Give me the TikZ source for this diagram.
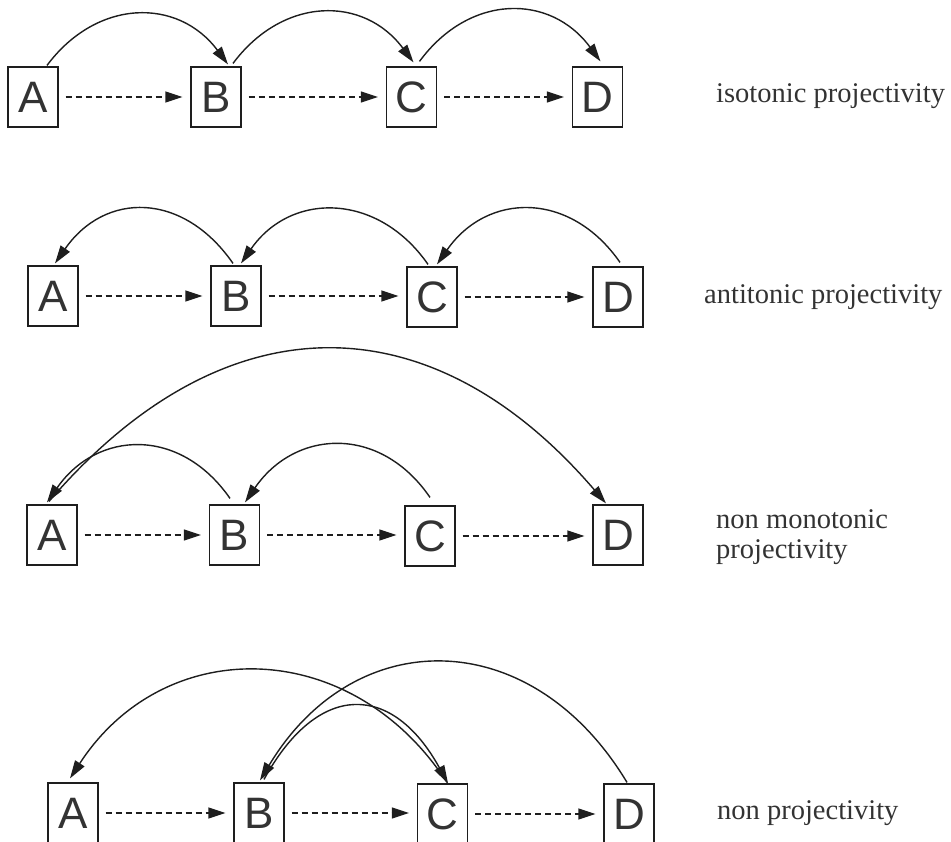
\documentclass[tikz,border=0pt]{standalone}
\usepackage{fontspec}
\setmainfont{Liberation Serif}
\newfontfamily\boxfont{Liberation Sans}
\usetikzlibrary{arrows.meta}
\definecolor{ink}{HTML}{1E1E1E}
\definecolor{txt}{HTML}{333333}
\begin{document}
\begin{tikzpicture}[x=1pt,y=-1pt,
  box/.style={draw=ink, line width=1.2pt, minimum width=50pt, minimum height=60pt, inner sep=0pt,
    font=\boxfont\fontsize{44}{44}\selectfont, text=txt},
  dep/.style={draw=ink, line width=1.4pt, -{Triangle[length=18pt,width=11pt]}},
  seq/.style={draw=ink, line width=1.2pt, dash pattern=on 6pt off 4pt,
    -{Triangle[length=17pt,width=11pt]}, shorten <=7pt, shorten >=8pt},
  lab/.style={anchor=west, font=\fontsize{28.5}{30}\selectfont, text=txt, inner sep=0pt, align=left}]
\useasboundingbox (0,0) rectangle (951,842);

% ---------- row 1: isotonic
\node[box] (A1) at (33,97) {A};
\node[box] (B1) at (216,97) {B};
\node[box] (C1) at (411.5,97) {C};
\node[box] (D1) at (597.5,97) {D};
\draw[seq] (A1.east) -- (A1.east -| B1.west);
\draw[seq] (B1.east) -- (B1.east -| C1.west);
\draw[seq] (C1.east) -- (C1.east -| D1.west);
\coordinate (a1s) at ([xshift=14pt,yshift=1pt]A1.north);
\coordinate (b1e) at ([xshift=12pt,yshift=2pt]B1.north);
\coordinate (b1s) at ([xshift=17pt,yshift=3pt]B1.north);
\coordinate (c1e) at ([xshift=2pt,yshift=4pt]C1.north);
\coordinate (c1s) at ([xshift=8pt,yshift=5pt]C1.north);
\coordinate (d1e) at ([xshift=3pt,yshift=5pt]D1.north);
\draw[dep] (a1s) .. controls +(50,-67) and +(-50,-67) .. (b1e);
\draw[dep] (b1s) .. controls +(50,-67) and +(-50,-67) .. (c1e);
\draw[dep] (c1s) .. controls +(50,-68) and +(-50,-68) .. (d1e);
\node[lab] (L1) at (716,96) {isotonic projectivity};

% ---------- row 2: antitonic
\node[box] (A2) at (53,296) {A};
\node[box] (B2) at (236,296) {B};
\node[box] (C2) at (432,297) {C};
\node[box] (D2) at (618,297) {D};
\draw[seq] (A2.east) -- (A2.east -| B2.west);
\draw[seq] (B2.east) -- (B2.east -| C2.west);
\draw[seq] (C2.east) -- (C2.east -| D2.west);
\coordinate (b2s) at ([xshift=-3pt,yshift=2pt]B2.north);
\coordinate (a2e) at ([xshift=2pt,yshift=2pt]A2.north);
\coordinate (c2s) at ([xshift=-4pt,yshift=2pt]C2.north);
\coordinate (b2e) at ([xshift=5pt,yshift=2pt]B2.north);
\coordinate (d2s) at ([xshift=2pt,yshift=4pt]D2.north);
\coordinate (c2e) at ([xshift=5pt,yshift=2pt]C2.north);
\draw[dep] (b2s) .. controls +(-50,-72) and +(50,-72) .. (a2e);
\draw[dep] (c2s) .. controls +(-50,-72) and +(50,-72) .. (b2e);
\draw[dep] (d2s) .. controls +(-50,-72) and +(50,-72) .. (c2e);
\node[lab] (L2) at (704,297) {antitonic projectivity};

% ---------- row 3: non monotonic
\node[box] (A3) at (52,535) {A};
\node[box] (B3) at (234.5,535) {B};
\node[box] (C3) at (430,536) {C};
\node[box] (D3) at (618,535) {D};
\draw[seq] (A3.east) -- (A3.east -| B3.west);
\draw[seq] (B3.east) -- (B3.east -| C3.west);
\draw[seq] (C3.east) -- (C3.east -| D3.west);
\coordinate (b3s) at ([xshift=-4.5pt,yshift=6pt]B3.north);
\coordinate (a3e) at ([xshift=-5pt,yshift=2pt]A3.north);
\coordinate (c3s) at ([xshift=0pt,yshift=8pt]C3.north);
\coordinate (b3e) at ([xshift=10.5pt,yshift=2pt]B3.north);
\coordinate (a3s) at ([xshift=-3pt,yshift=3pt]A3.north);
\coordinate (d3e) at ([xshift=-12pt,yshift=1pt]D3.north);
\draw[dep] (b3s) .. controls +(-50,-72) and +(50,-72) .. (a3e);
\draw[dep] (c3s) .. controls +(-50,-73) and +(50,-73) .. (b3e);
\draw[dep] (a3s) .. controls +(175,-204) and +(-175,-204) .. (d3e);
\node[lab] (L3) at (716,537) {non monotonic\\projectivity};

% ---------- row 4: non projectivity
\node[box] (A4) at (73,813) {A};
\node[box] (B4) at (259,813) {B};
\node[box] (C4) at (442.5,814) {C};
\node[box] (D4) at (629,814) {D};
\draw[seq] (A4.east) -- (A4.east -| B4.west);
\draw[seq] (B4.east) -- (B4.east -| C4.west);
\draw[seq] (C4.east) -- (C4.east -| D4.west);
\coordinate (c4s) at ([xshift=4.5pt,yshift=1pt]C4.north);
\coordinate (a4e) at ([xshift=-3pt,yshift=4pt]A4.north);
\coordinate (b4s) at ([xshift=5pt,yshift=3pt]B4.north);
\coordinate (c4e) at ([xshift=5.5pt,yshift=0pt]C4.north);
\coordinate (d4s) at ([xshift=-2pt,yshift=1pt]D4.north);
\coordinate (b4e) at ([xshift=1pt,yshift=2pt]B4.north);
\draw[dep] (c4s) .. controls +(-95,-146) and +(95,-146) .. (a4e);
\draw[dep] (b4s) .. controls +(55,-100) and +(-55,-100) .. (c4e);
\draw[dep] (d4s) .. controls +(-95,-158) and +(95,-158) .. (b4e);
\node[lab] (L4) at (717,813) {non projectivity};
\end{tikzpicture}
\end{document}
